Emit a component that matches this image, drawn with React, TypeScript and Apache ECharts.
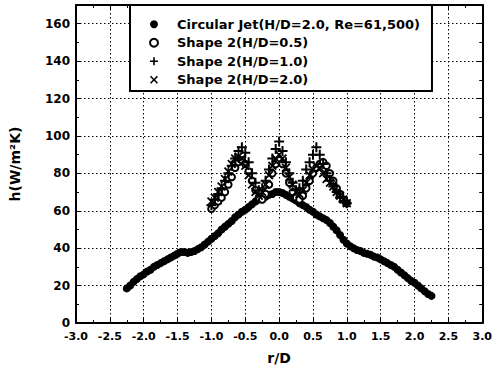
import React, { useEffect, useRef } from "react";
import * as echarts from "echarts";

// ---- Data ----
const jetR = [
  -2.25, -2.2, -2.15, -2.1, -2.05, -2.0, -1.95, -1.9, -1.85, -1.8, -1.75, -1.7, -1.65, -1.6, -1.55,
  -1.5, -1.45, -1.4, -1.35, -1.3, -1.25, -1.2, -1.15, -1.1, -1.05, -1.0, -0.95, -0.9, -0.85, -0.8,
  -0.75, -0.7, -0.65, -0.6, -0.55, -0.5, -0.45, -0.4, -0.35, -0.3, -0.25, -0.2, -0.15, -0.1, -0.05,
  0.0, 0.05, 0.1, 0.15, 0.2, 0.25, 0.3, 0.35, 0.4, 0.45, 0.5, 0.55, 0.6, 0.65, 0.7, 0.75, 0.8,
  0.85, 0.9, 0.95, 1.0, 1.05, 1.1, 1.15, 1.2, 1.25, 1.3, 1.35, 1.4, 1.45, 1.5, 1.55, 1.6, 1.65,
  1.7, 1.75, 1.8, 1.85, 1.9, 1.95, 2.0, 2.05, 2.1, 2.15, 2.2, 2.25,
];
const jetH = [
  18.5, 20, 22, 23.5, 25, 26, 27.5, 28.5, 30, 31, 32, 33, 34, 35, 36,
  37, 38, 38, 37.5, 38, 38.5, 39.5, 40.5, 42, 43.5, 45, 46.5, 48, 50, 51.5,
  53, 54.5, 56.5, 58, 59.5, 60.5, 62, 63.5, 65, 66, 67, 67.5, 68.5, 69, 70,
  70, 69.5, 68.5, 67.5, 66.5, 65.5, 64, 63, 62, 60.5, 59.5, 58, 57, 56, 55, 53.5, 51.5,
  49.5, 47, 44.5, 42.5, 41, 40, 39, 38.5, 37.5, 37, 36.5, 35.5, 35, 34, 33, 32, 31,
  30, 28.5, 27, 25.5, 24, 22.5, 21.5, 20, 18.5, 17, 15.5, 14.5,
];
const shapeR = [
  -1.0, -0.95, -0.9, -0.85, -0.8, -0.75, -0.7, -0.65, -0.6, -0.55, -0.5, -0.45, -0.4, -0.35,
  -0.3, -0.25, -0.2, -0.15, -0.1, -0.05, 0.0, 0.05, 0.1, 0.15, 0.2, 0.25, 0.3, 0.35, 0.4, 0.45,
  0.5, 0.55, 0.6, 0.65, 0.7, 0.75, 0.8, 0.85, 0.9, 0.95, 1.0,
];
const shapeHD05 = [
  61, 63, 65, 67, 70, 74, 78, 83, 86, 87, 85, 81, 76, 71,
  67, 66, 69, 74, 80, 85, 87, 85, 80, 75, 70, 67, 66, 68, 72, 76,
  80, 83, 85, 86, 84, 80, 76, 72, 69, 66, 64,
];
const shapeHD10 = [
  63, 66, 69, 72, 76, 80, 84, 88, 92, 94, 91, 86, 80, 75,
  71, 72, 76, 82, 88, 93, 97, 92, 86, 80, 75, 71, 72, 76, 82, 86,
  90, 94, 90, 85, 80, 76, 73, 70, 67, 65, 64,
];
const shapeHD20 = [
  65, 67, 70, 73, 77, 81, 85, 88, 89, 88, 84, 79, 74, 70,
  68, 70, 74, 79, 84, 88, 90, 88, 83, 78, 74, 70, 69, 71, 75, 79,
  82, 84, 83, 80, 77, 75, 73, 70, 68, 66, 64,
];
const seriesNames = [
  "Circular Jet(H/D=2.0, Re=61,500)",
  "Shape 2(H/D=0.5)",
  "Shape 2(H/D=1.0)",
  "Shape 2(H/D=2.0)",
];
const xAxisName = "r/D";
const yAxisName = "h(W/m\u00B2K)";

const PLUS = "path://M4,0H6V4H10V6H6V10H4V6H0V4H4Z";
const CROSS =
  "path://M1.4,0L5,3.6L8.6,0L10,1.4L6.4,5L10,8.6L8.6,10L5,6.4L1.4,10L0,8.6L3.6,5L0,1.4Z";

const FONT = "DejaVu Sans";

function zip(xs: number[], ys: number[]) {
  return xs.map((x, i) => [x, ys[i]]);
}

export default function App() {
  const ref = useRef<HTMLDivElement>(null);
  useEffect(() => {
    if (!ref.current) return;
    const chart = echarts.init(ref.current, undefined, { renderer: "svg" });
    const axisLine = { show: true, onZero: false, lineStyle: { color: "#000", width: 2 } };
    const tick = { show: true, inside: true, length: 5, lineStyle: { color: "#000", width: 1 } };
    const minor = { show: true, splitNumber: 2, length: 3, lineStyle: { color: "#000", width: 1 } };
    const split = { show: true, lineStyle: { color: "#000", width: 1, type: [1.5, 2.5] } };
    chart.setOption({
      animation: false,
      backgroundColor: "#fff",
      grid: { left: 74, right: 9, top: 5, bottom: 46 },
      legend: {
        orient: "vertical",
        left: 130,
        top: 5,
        data: seriesNames,
        itemWidth: 10,
        itemHeight: 8,
        itemGap: 0,
        padding: [10, 12, 2, 19],
        borderColor: "#000",
        borderWidth: 2,
        backgroundColor: "#fff",
        formatter: (name: string) => `{g| }${name}`,
        textStyle: {
          fontFamily: FONT,
          fontWeight: "bold",
          fontSize: 13,
          color: "#000",
          lineHeight: 18.5,
          rich: {
            g: { width: 13, fontSize: 13, lineHeight: 18.5 },
          },
        },
      },
      xAxis: [
        {
          type: "value",
          min: -3,
          max: 3,
          interval: 0.5,
          position: "bottom",
          name: xAxisName,
          nameLocation: "middle",
          nameGap: 28,
          nameTextStyle: { fontFamily: FONT, fontWeight: "bold", fontSize: 14, color: "#000" },
          axisLine,
          axisTick: tick,
          minorTick: minor,
          splitLine: split,
          axisLabel: {
            margin: 8,
            fontFamily: FONT,
            fontWeight: "bold",
            fontSize: 11,
            color: "#000",
            formatter: (v: number) => v.toFixed(1),
          },
        },
        {
          type: "value",
          min: -3,
          max: 3,
          interval: 0.5,
          position: "top",
          axisLine,
          axisTick: tick,
          minorTick: minor,
          splitLine: { show: false },
          axisLabel: { show: false },
        },
      ],
      yAxis: [
        {
          type: "value",
          min: 0,
          max: 170,
          interval: 20,
          position: "left",
          name: yAxisName,
          nameLocation: "middle",
          nameGap: 54,
          nameTextStyle: { fontFamily: FONT, fontWeight: "bold", fontSize: 14, color: "#000" },
          axisLine,
          axisTick: tick,
          minorTick: minor,
          splitLine: split,
          axisLabel: {
            margin: 6,
            fontFamily: FONT,
            fontWeight: "bold",
            fontSize: 12,
            color: "#000",
            formatter: (v: number) => (v > 160 ? "" : String(v)),
          },
        },
        {
          type: "value",
          min: 0,
          max: 170,
          interval: 20,
          position: "right",
          axisLine,
          axisTick: tick,
          minorTick: minor,
          splitLine: { show: false },
          axisLabel: { show: false },
        },
      ],
      series: [
        {
          name: seriesNames[0],
          type: "scatter",
          symbol: "circle",
          symbolSize: 8,
          itemStyle: { color: "#000", opacity: 1 },
          data: zip(jetR, jetH),
        },
        {
          name: seriesNames[1],
          type: "scatter",
          symbol: "emptyCircle",
          symbolSize: 6.5,
          itemStyle: { color: "#000", borderWidth: 1.5, opacity: 1 },
          data: zip(shapeR, shapeHD05),
        },
        {
          name: seriesNames[2],
          type: "scatter",
          symbol: PLUS,
          symbolSize: 10,
          itemStyle: { color: "#000", opacity: 1 },
          data: zip(shapeR, shapeHD10),
        },
        {
          name: seriesNames[3],
          type: "scatter",
          symbol: CROSS,
          symbolSize: 9,
          itemStyle: { color: "#000", opacity: 1 },
          data: zip(shapeR, shapeHD20),
        },
      ],
    });
    return () => chart.dispose();
  }, []);
  return (
    <div
      ref={ref}
      style={{ position: "fixed", left: 0, top: 0, width: 495, height: 370, background: "#fff" }}
    />
  );
}
